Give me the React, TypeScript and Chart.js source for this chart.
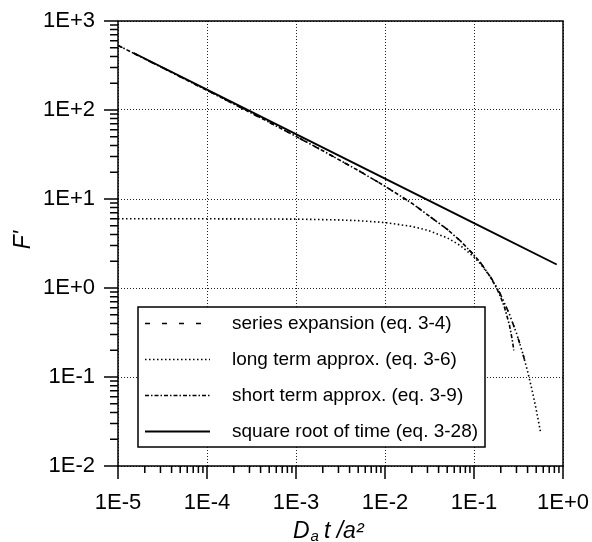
import React, { useEffect, useRef } from 'react';
import { Chart, registerables } from 'chart.js';
Chart.register(...registerables);

// ---- data ----
const xDecades = [1e-5, 1e-4, 1e-3, 1e-2, 1e-1, 1];
const yDecades = [1e-2, 1e-1, 1, 10, 100, 1000];

const seriesTau = [1e-5, 2e-5, 5e-5, 1e-4, 2e-4, 5e-4, 1e-3, 2e-3, 5e-3, 1e-2, 2e-2, 5e-2, 0.07, 0.1, 0.12, 0.15, 0.18, 0.2, 0.25, 0.3, 0.35, 0.4];
const seriesF = [532.3, 375.5, 236.4, 166.3, 116.7, 72.7, 50.5, 34.85, 20.94, 13.93, 8.97, 4.57, 3.397, 2.35, 1.889, 1.382, 1.02, 0.836, 0.509, 0.311, 0.19, 0.116];

const longTau = [1e-5, 1e-4, 1e-3, 3e-3, 5e-3, 1e-2, 2e-2, 3e-2, 5e-2, 7e-2, 0.1, 0.12, 0.15, 0.18, 0.2, 0.25, 0.3, 0.35, 0.4, 0.45, 0.5, 0.56];
const longF = [6.0, 5.994, 5.94, 5.825, 5.71, 5.436, 4.92, 4.46, 3.66, 3.006, 2.236, 1.836, 1.366, 1.015, 0.833, 0.509, 0.311, 0.19, 0.116, 0.0707, 0.0432, 0.0239];

const shortTau = [1e-5, 2e-5, 5e-5, 1e-4, 2e-4, 5e-4, 1e-3, 2e-3, 5e-3, 1e-2, 2e-2, 5e-2, 0.07, 0.1, 0.12, 0.15, 0.18, 0.2, 0.22, 0.25, 0.27, 0.28];
const shortF = [532.3, 375.5, 236.4, 166.3, 116.7, 72.7, 50.5, 34.85, 20.94, 13.93, 8.97, 4.57, 3.397, 2.35, 1.886, 1.37, 0.99, 0.785, 0.609, 0.385, 0.257, 0.199];

const sqrtTau = [1.5e-5, 1e-4, 1e-3, 1e-2, 0.1, 0.85];
const sqrtF = [437, 169.3, 53.5, 16.93, 5.35, 1.836];

const legendLabels = [
  'series expansion (eq. 3-4)',
  'long term approx. (eq. 3-6)',
  'short term approx. (eq. 3-9)',
  'square root of time (eq. 3-28)',
];

const FONT = '"Liberation Sans", Arial, sans-serif';

const dashSeries = [5, 12];
const dashLong = [1.5, 2.5];
const dashShort = [4, 2, 1.5, 2];
const dashSolid: number[] = [];
const styles = [dashSeries, dashLong, dashShort, dashSolid];

const pts = (xs: number[], ys: number[]) => xs.map((x, i) => ({ x, y: ys[i] }));

const fmt = (v: number) => {
  const e = Math.round(Math.log10(v));
  return '1E' + (e >= 0 ? '+' : '-') + Math.abs(e);
};

const framePlugin = {
  id: 'frameTicks',
  afterDraw(chart: any) {
    const { ctx, chartArea: ca, scales } = chart;
    const xs = scales.x;
    const ys = scales.y;
    ctx.save();
    ctx.strokeStyle = '#000';
    ctx.lineWidth = 1.5;
    ctx.setLineDash([]);
    ctx.strokeRect(ca.left, ca.top, ca.right - ca.left, ca.bottom - ca.top);
    ctx.beginPath();
    for (let d = 0; d < xDecades.length; d++) {
      const v = xDecades[d];
      const px = xs.getPixelForValue(v);
      ctx.moveTo(px, ca.bottom);
      ctx.lineTo(px, ca.bottom + 13);
      if (d < xDecades.length - 1) {
        for (let k = 2; k <= 9; k++) {
          const p = xs.getPixelForValue(k * v);
          ctx.moveTo(p, ca.bottom);
          ctx.lineTo(p, ca.bottom + 7);
        }
      }
    }
    for (let d = 0; d < yDecades.length; d++) {
      const v = yDecades[d];
      const py = ys.getPixelForValue(v);
      ctx.moveTo(ca.left, py);
      ctx.lineTo(ca.left - 14, py);
      if (d < yDecades.length - 1) {
        for (let k = 2; k <= 9; k++) {
          const p = ys.getPixelForValue(k * v);
          ctx.moveTo(ca.left, p);
          ctx.lineTo(ca.left - 8, p);
        }
      }
    }
    ctx.stroke();

    // legend
    const lx = ca.left + 20;
    const ly = ca.top + 286;
    const lw = 347;
    const lh = 140;
    ctx.fillStyle = '#fff';
    ctx.fillRect(lx, ly, lw, lh);
    ctx.strokeRect(lx, ly, lw, lh);
    ctx.font = `19px ${FONT}`;
    ctx.textBaseline = 'middle';
    ctx.textAlign = 'left';
    ctx.fillStyle = '#000';
    legendLabels.forEach((lab, i) => {
      const ry = ly + 16.5 + i * 36;
      ctx.save();
      ctx.lineWidth = i === 3 ? 1.8 : 1.5;
      ctx.setLineDash(styles[i]);
      ctx.beginPath();
      ctx.moveTo(lx + 7, ry);
      ctx.lineTo(lx + 72, ry);
      ctx.stroke();
      ctx.restore();
      ctx.fillText(lab, lx + 94, ry);
    });

    // x title: D_a t /a²
    ctx.textBaseline = 'alphabetic';
    const big = `italic 23px ${FONT}`;
    const small = `italic 15px ${FONT}`;
    ctx.font = big;
    const wD = ctx.measureText('D').width;
    ctx.font = small;
    const wa = ctx.measureText('a').width;
    let tx = 293;
    const by = 537.5;
    ctx.font = big;
    ctx.fillText('D', tx, by);
    tx += wD + 1;
    ctx.font = small;
    ctx.fillText('a', tx, by + 3);
    tx += wa + 5;
    ctx.font = big;
    ctx.fillText('t /a²', tx, by);

    // y title
    ctx.save();
    ctx.translate(30, 240);
    ctx.rotate(-Math.PI / 2);
    ctx.textAlign = 'center';
    ctx.font = big;
    ctx.fillText("F'", 0, 0);
    ctx.restore();

    ctx.restore();
  },
};

export default function App() {
  const ref = useRef<HTMLCanvasElement>(null);
  useEffect(() => {
    if (!ref.current) return;
    const mk = (label: string, data: any, dash: number[], w = 1.6) => ({
      label,
      data,
      borderColor: '#000',
      borderWidth: w,
      borderDash: dash,
      pointRadius: 0,
      showLine: true,
      fill: false,
      tension: 0,
    });
    const chart = new Chart(ref.current, {
      type: 'scatter',
      data: {
        datasets: [
          mk(legendLabels[0], pts(seriesTau, seriesF), dashSeries),
          mk(legendLabels[1], pts(longTau, longF), dashLong),
          mk(legendLabels[2], pts(shortTau, shortF), dashShort),
          mk(legendLabels[3], pts(sqrtTau, sqrtF), dashSolid, 1.9),
        ],
      },
      options: {
        animation: false,
        responsive: false,
        devicePixelRatio: 1,
        layout: { padding: { left: 0, top: 21, right: 29, bottom: 0 } },
        plugins: { legend: { display: false }, tooltip: { enabled: false } },
        scales: {
          x: {
            type: 'logarithmic',
            min: 1e-5,
            max: 1,
            afterBuildTicks: (s: any) => { s.ticks = xDecades.map((v) => ({ value: v })); },
            afterFit: (s: any) => { s.height = 76; s.paddingLeft = 0; s.paddingRight = 0; },
            grid: { color: '#222', lineWidth: 1, drawTicks: false },
            border: { display: false, dash: [1, 2] },
            ticks: {
              color: '#000',
              padding: 24,
              maxRotation: 0,
              autoSkip: false,
              font: { family: FONT, size: 22 },
              callback: (v: any) => fmt(Number(v)),
            },
          },
          y: {
            type: 'logarithmic',
            min: 1e-2,
            max: 1e3,
            afterBuildTicks: (s: any) => { s.ticks = yDecades.map((v) => ({ value: v })); },
            afterFit: (s: any) => { s.width = 118; s.paddingTop = 0; s.paddingBottom = 0; },
            grid: { color: '#222', lineWidth: 1, drawTicks: false },
            border: { display: false, dash: [1, 2] },
            ticks: {
              color: '#000',
              padding: 23,
              autoSkip: false,
              font: { family: FONT, size: 22 },
              callback: (v: any) => fmt(Number(v)),
            },
          },
        },
      },
      plugins: [framePlugin],
    } as any);
    return () => chart.destroy();
  }, []);
  return (
    <div style={{ position: 'fixed', left: 0, top: 0, width: 592, height: 542, background: '#fff' }}>
      <canvas ref={ref} width={592} height={542} />
    </div>
  );
}
